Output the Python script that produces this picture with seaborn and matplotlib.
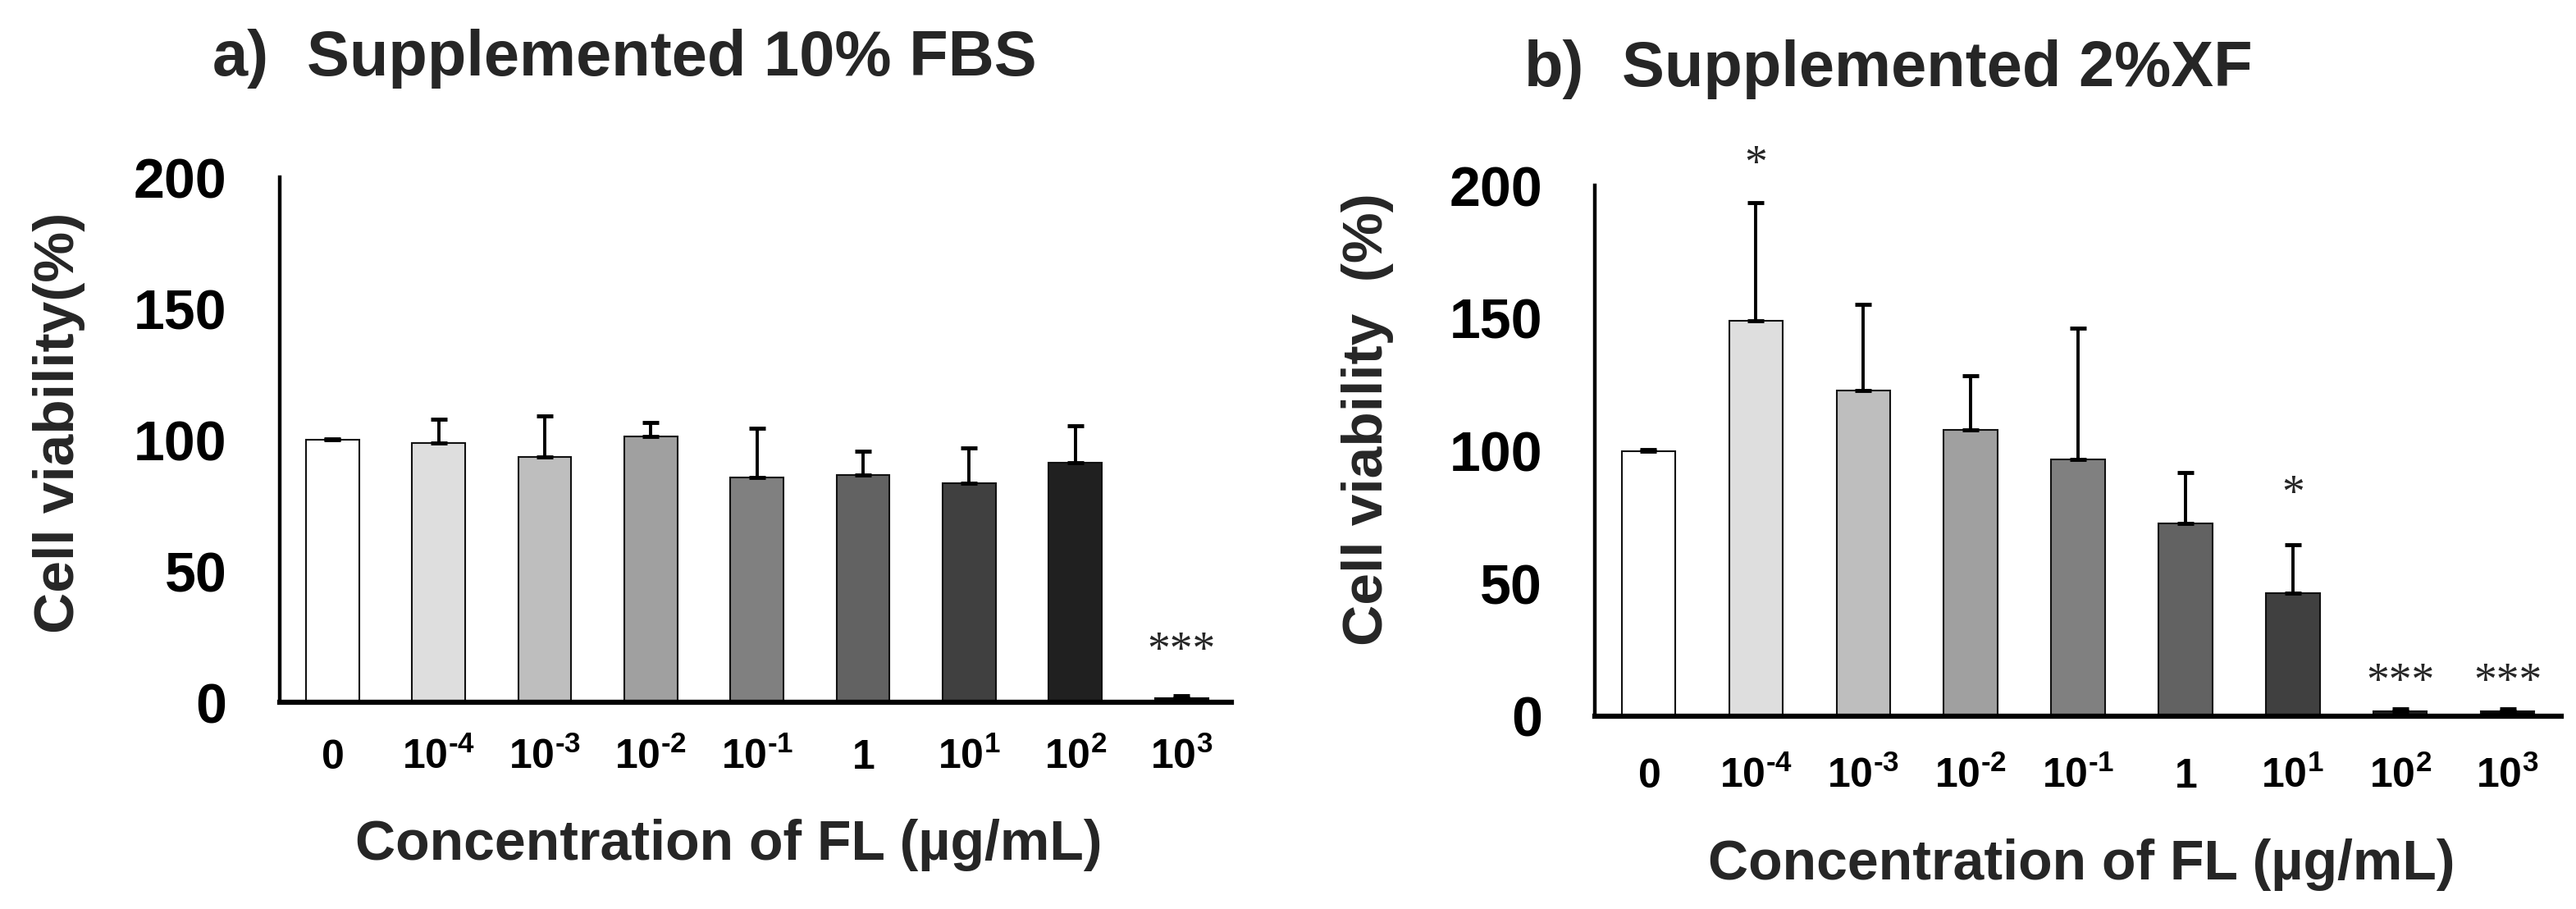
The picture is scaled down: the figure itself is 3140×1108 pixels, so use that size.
import numpy as np
import pandas as pd
import matplotlib
matplotlib.use("Agg")
import matplotlib.pyplot as plt
import seaborn as sns

# concentrations of FL (ug/mL) on the x axis
conc_labels = ["$0$", "$10^{\u20104}$", "$10^{\u20103}$", "$10^{\u20102}$",
               "$10^{\u20101}$", "$1$", "$10^{1}$", "$10^{2}$", "$10^{3}$"]

# a) supplemented 10% FBS: mean viability and upper SD
fbs_mean = [100.0, 98.7, 93.5, 101.3, 85.7, 86.7, 83.4, 91.4, 1.7]
fbs_sd = [0.4, 9.1, 15.5, 5.3, 18.6, 8.9, 13.5, 14.0, 0.8]
fbs_sig = ["", "", "", "", "", "", "", "", "***"]

# b) supplemented 2% XF
xf_mean = [100.0, 149.0, 122.6, 107.9, 96.8, 72.7, 46.5, 1.8, 1.8]
xf_sd = [0.4, 44.6, 32.7, 20.4, 49.4, 19.0, 18.1, 1.0, 1.0]
xf_sig = ["", "*", "", "", "", "", "*", "***", "***"]

bar_colors = ["#ffffff", "#dedede", "#bebebe", "#a0a0a0", "#808080",
              "#626262", "#404040", "#202020", "#050505"]

sns.set_style("white")
plt.rcParams["font.family"] = ["Liberation Sans", "DejaVu Sans"]
plt.rcParams["font.weight"] = "bold"
plt.rcParams["mathtext.fontset"] = "custom"
plt.rcParams["mathtext.rm"] = "Liberation Sans:bold"
plt.rcParams["mathtext.bf"] = "Liberation Sans:bold"
plt.rcParams["mathtext.default"] = "rm"

W, H = 3140, 1108
fig = plt.figure(figsize=(W / 100, H / 100), dpi=100)
fig.patch.set_facecolor("white")


def fx(x):
    return x / W


def fy(y):
    return 1 - y / H


def panel(x0, x1, ybot, ytop, means, sds, sigs, xlim_right, tick_pad, sig_off):
    ax = fig.add_axes([fx(x0), fy(ybot), (x1 - x0) / W, (ybot - ytop) / H])
    df = pd.DataFrame({"conc": conc_labels, "viability": means})
    sns.barplot(data=df, x="conc", y="viability", hue="conc",
                palette=bar_colors, legend=False, width=0.5,
                edgecolor="#111111", linewidth=1.5, errorbar=None, ax=ax)
    ax.errorbar(np.arange(len(means)), means,
                yerr=[np.zeros(len(sds)), sds], fmt="none", ecolor="black",
                elinewidth=2.8, capsize=7, capthick=3.5, zorder=3)
    for i, s in enumerate(sigs):
        if s:
            ax.annotate(s, xy=(i, means[i] + sds[i]), xytext=(0, sig_off[i]),
                        textcoords="offset points", ha="center",
                        va="baseline", fontsize=40, fontweight="normal",
                        family=["Liberation Serif", "DejaVu Serif"],
                        annotation_clip=False)
    ax.set_xlim(-0.5, xlim_right)
    ax.set_ylim(0, 200)
    ax.set_yticks([0, 50, 100, 150, 200])
    ax.set_xlabel("")
    ax.set_ylabel("")
    for side in ["top", "right"]:
        ax.spines[side].set_visible(False)
    ax.spines["left"].set_linewidth(3.2)
    ax.spines["bottom"].set_linewidth(4.5)
    ax.spines["left"].set_color("black")
    ax.spines["bottom"].set_color("black")
    ax.tick_params(axis="y", direction="in", length=14, width=3,
                   labelsize=49, pad=46, colors="black")
    ax.tick_params(axis="x", length=0, labelsize=36, pad=tick_pad,
                   colors="black")
    ax.set_xticks(range(len(conc_labels)), conc_labels, va="baseline")
    ax.set_facecolor("white")
    return ax


ax1 = panel(340.5, 1501, 856, 216, fbs_mean, fbs_sd, fbs_sig, 8.47, 58,
            [0, 0, 0, 0, 0, 0, 0, 0, 28])
ax2 = panel(1944, 3122, 873, 226, xf_mean, xf_sd, xf_sig, 8.5, 62.5,
            [0, 22, 0, 0, 0, 0, 33, 12, 12])

# panel titles
fig.text(fx(259), fy(92), "a)", fontsize=56, fontweight="bold", va="baseline")
fig.text(fx(374), fy(92), "Supplemented 10% FBS", fontsize=56,
         fontweight="bold", va="baseline")
fig.text(fx(1858), fy(105), "b)", fontsize=56, fontweight="bold",
         va="baseline")
fig.text(fx(1977), fy(105), "Supplemented 2%XF", fontsize=56,
         fontweight="bold", va="baseline")

# axis labels
fig.text(fx(72), fy(515), "Cell viability(%)", fontsize=50, fontweight="bold",
         rotation=90, ha="center", va="center")
fig.text(fx(1667), fy(511), "Cell viability  (%)", fontsize=50,
         fontweight="bold", rotation=90, ha="center", va="center")
fig.text(fx(888), fy(1048), "Concentration of FL (µg/mL)", fontsize=49,
         fontweight="bold", ha="center", va="baseline")
fig.text(fx(2537), fy(1072), "Concentration of FL (µg/mL)", fontsize=49,
         fontweight="bold", ha="center", va="baseline")

fig.savefig("out.png", dpi=100, facecolor="white")
